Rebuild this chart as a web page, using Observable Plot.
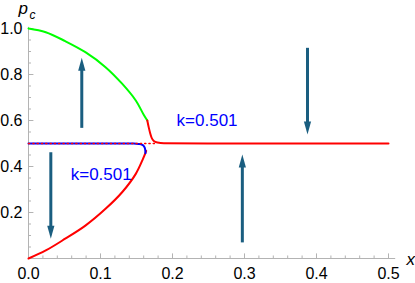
<!DOCTYPE html>
<html>
<head>
<meta charset="utf-8">
<script src="https://cdn.jsdelivr.net/npm/d3@7"></script>
<script src="https://cdn.jsdelivr.net/npm/@observablehq/plot@0.6"></script>
<style>
  html, body { margin: 0; padding: 0; background: #fff; }
  #chart svg { display: block; }
</style>
</head>
<body>
<div id="chart"></div>
<script>
// ---- data ----
const greenX = [0, 0.024, 0.051, 0.079, 0.107, 0.130, 0.149, 0.160, 0.165];
const greenY = [1.0, 0.984, 0.945, 0.897, 0.832, 0.760, 0.687, 0.625, 0.600];

const redLowX = [0, 0.024, 0.051, 0.079, 0.107, 0.130, 0.149, 0.159, 0.1635];
const redLowY = [0, 0.035, 0.086, 0.143, 0.216, 0.288, 0.368, 0.433, 0.468];

const redUpX = [0.165, 0.167, 0.169, 0.171, 0.174, 0.179, 0.188, 0.25, 0.5];
const redUpY = [0.600, 0.570, 0.545, 0.525, 0.511, 0.504, 0.501, 0.500, 0.500];

const blueX = [0, 0.146, 0.153, 0.158, 0.1605, 0.162, 0.1625];
const blueY = [0.5, 0.5, 0.498, 0.494, 0.487, 0.475, 0.458];

const dotX = [0, 0.178];
const dotY = [0.5, 0.5];

const arrowX    = [0.074, 0.031, 0.297, 0.3875];
const arrowFrom = [0.568, 0.462, 0.070, 0.916];
const arrowTo   = [0.873, 0.086, 0.452, 0.539];

const labelText = ["k=0.501", "k=0.501"];
const labelX = [0.248, 0.101];
const labelY = [0.600, 0.363];

const xMajor = [0, 0.1, 0.2, 0.3, 0.4, 0.5];
const yMajor = [0.2, 0.4, 0.6, 0.8, 1.0];
const xMinor = d3.range(0, 0.501, 0.02).filter(v => Math.abs(v * 10 - Math.round(v * 10)) > 1e-6);
const yMinor = d3.range(0.05, 1.0, 0.05).filter(v => Math.abs(v * 5 - Math.round(v * 5)) > 1e-6);

// ---- tables ----
const pts = (xs, ys) => xs.map((x, i) => ({x, y: ys[i]}));
const green = pts(greenX, greenY);
const redLow = pts(redLowX, redLowY);
const redUp = pts(redUpX, redUpY);
const blue = pts(blueX, blueY);
const dotted = pts(dotX, dotY);
const arrows = arrowX.map((x, i) => ({x, y1: arrowFrom[i], y2: arrowTo[i], up: arrowTo[i] > arrowFrom[i]}));
const labels = labelText.map((t, i) => ({t, x: labelX[i], y: labelY[i]}));

const axisColor = "#b3b3b3";
const arrowColor = "#1a5e80";
const font = "Liberation Sans, Arial, sans-serif";

const headSymbol = {
  draw(ctx) {
    ctx.moveTo(0, 0);
    ctx.lineTo(3.6, 13);
    ctx.lineTo(-3.6, 13);
    ctx.closePath();
  }
};

const chart = Plot.plot({
  width: 415,
  height: 283,
  marginLeft: 28,
  marginRight: 27,
  marginTop: 28,
  marginBottom: 25,
  style: {fontFamily: font, background: "#fff"},
  x: {domain: [0, 0.5], axis: null},
  y: {domain: [0, 1], axis: null},
  marks: [
    // axes lines
    Plot.ruleY([0], {x1: 0, x2: 0.51, stroke: axisColor, strokeWidth: 1}),
    Plot.ruleX([0], {y1: 0, y2: 1.005, stroke: axisColor, strokeWidth: 1}),
    // ticks
    Plot.ruleX(xMajor, {x: d => d, y1: 0, y2: 0.02, stroke: axisColor}),
    Plot.ruleX(xMinor, {x: d => d, y1: 0, y2: 0.011, stroke: axisColor}),
    Plot.ruleY(yMajor, {y: d => d, x1: 0, x2: 0.0075, stroke: axisColor}),
    Plot.ruleY(yMinor, {y: d => d, x1: 0, x2: 0.0042, stroke: axisColor}),
    // tick labels
    Plot.axisX({ticks: xMajor, tickFormat: d3.format(".1f"), tickSize: 0, tickPadding: 9, fontSize: 16, label: null, fill: "#000"}),
    Plot.axisY({ticks: yMajor, tickFormat: d3.format(".1f"), tickSize: 0, tickPadding: 6, fontSize: 16, label: null, fill: "#000"}),
    // axis titles
    Plot.text(["x"], {x: 0.5, y: 0, text: d => d, dx: 18, dy: 6, lineAnchor: "bottom", textAnchor: "start", fontSize: 17, fontStyle: "italic", fill: "#000"}),
    Plot.text(["p"], {x: 0, y: 1, text: d => d, dx: -10, dy: -15, lineAnchor: "bottom", textAnchor: "start", fontSize: 17, fontStyle: "italic", fill: "#000"}),
    Plot.text(["c"], {x: 0, y: 1, text: d => d, dx: 1, dy: -10, lineAnchor: "bottom", textAnchor: "start", fontSize: 12, fontStyle: "italic", fill: "#000"}),
    // curves
    Plot.line(green, {x: "x", y: "y", stroke: "#00ff00", strokeWidth: 2, curve: "catmull-rom"}),
    Plot.line(redLow, {x: "x", y: "y", stroke: "#ff0000", strokeWidth: 2, curve: "catmull-rom"}),
    Plot.line(blue, {x: "x", y: "y", stroke: "#0000ff", strokeWidth: 2, curve: "monotone-x"}),
    Plot.line(dotted, {x: "x", y: "y", stroke: "#ff0000", strokeWidth: 1.4, strokeDasharray: "1.3,3"}),
    Plot.line(redUp, {x: "x", y: "y", stroke: "#ff0000", strokeWidth: 2, curve: "monotone-x"}),
    // arrows
    Plot.link(arrows, {x1: "x", x2: "x", y1: "y1", y2: d => d.y2 + (d.up ? -0.04 : 0.04), stroke: arrowColor, strokeWidth: 3}),
    Plot.dot(arrows, {x: "x", y: "y2", symbol: headSymbol, fill: arrowColor, stroke: "none", rotate: d => d.up ? 0 : 180}),
    // labels
    Plot.text(labels, {x: "x", y: "y", text: "t", fill: "#0000ff", fontSize: 17})
  ]
});

document.getElementById("chart").appendChild(chart);
</script>
</body>
</html>
